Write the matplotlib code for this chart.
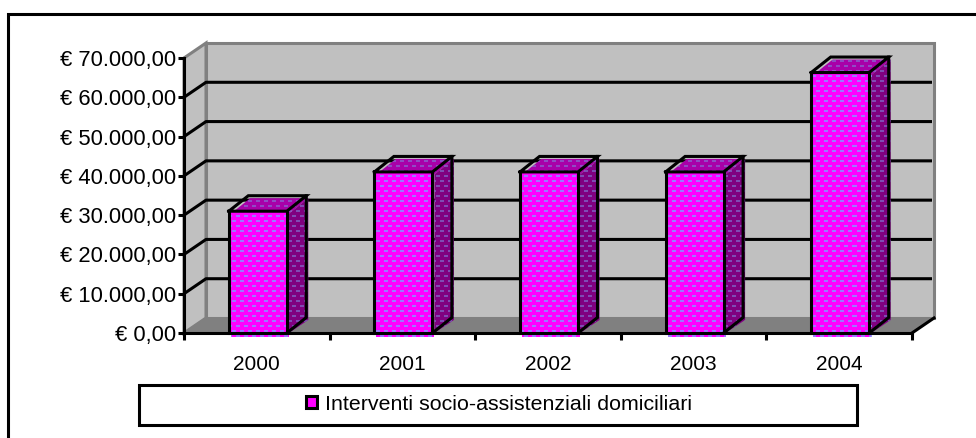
import matplotlib
matplotlib.use("Agg")
import numpy as np
import matplotlib.pyplot as plt
from matplotlib.patches import Polygon, Rectangle, Patch
from matplotlib.transforms import Affine2D
from matplotlib.ticker import FuncFormatter

years = ["2000", "2001", "2002", "2003", "2004"]
values = [31000, 41000, 41000, 41000, 66300]
series_name = "Interventi socio-assistenziali domiciliari"
y_ticks = [0, 10000, 20000, 30000, 40000, 50000, 60000, 70000]

W, H = 976, 438
plt.rcParams["font.family"] = ["Liberation Sans", "DejaVu Sans"]
FS_Y, FS_X, FS_L = 15.8, 15.0, 15.4
LW = 2.2
fig = plt.figure(figsize=(W / 100, H / 100), dpi=100, facecolor="white")
px = Affine2D().scale(1 / W, -1 / H).translate(0, 1) + fig.transFigure

# front plane of the chart box in pixels
L, R, T, B = 184, 912, 58, 333
ax = fig.add_axes([L / W, 1 - B / H, (R - L) / W, (B - T) / H])
ax.patch.set_visible(False)
for s in ["top", "right"]:
    ax.spines[s].set_visible(False)
for s in ["left", "bottom"]:
    ax.spines[s].set_linewidth(LW)
    ax.spines[s].set_zorder(8)

# pixel to data helpers
ux = 5 / (R - L)
uy = 70000 / (B - T)
DX, DY = 22 * ux, 15 * uy          # depth of the box
x0, x1 = -0.5, 4.5

def poly(pts, **kw):
    kw.setdefault("clip_on", False)
    p = Polygon(pts, closed=True, **kw)
    ax.add_patch(p)
    return p

# dotted fill texture laid over the bar faces
def dot_layer(rgb, alpha):
    t = np.zeros((H, W, 4))
    t[..., :3] = rgb
    for y in range(0, H, 5):
        shift = 4 if (y // 5) % 2 else 0
        for x in range(shift, W, 8):
            t[y:y + 2, x:min(x + 4, W), 3] = alpha
    return t

front_dots = dot_layer((0.55, 0.55, 1.0), 0.85)
side_dots = dot_layer((0.5, 0.5, 0.85), 0.6)
full_extent = (x0 - L * ux, x0 + (W - L) * ux, -(H - B) * uy, 70000 + T * uy)

def dots(tex, patch, z):
    im = ax.imshow(tex, extent=full_extent, aspect="auto", interpolation="nearest",
                   origin="upper", zorder=z)
    im.set_clip_path(patch)

# walls and floor
poly([(x0 + DX, DY), (x1 + DX, DY), (x1 + DX, 70000 + DY), (x0 + DX, 70000 + DY)],
     fc="#C0C0C0", ec="#808080", lw=LW, zorder=1)
poly([(x0, 0), (x0 + DX, DY), (x0 + DX, 70000 + DY), (x0, 70000)],
     fc="#C0C0C0", ec="#808080", lw=LW, zorder=1)
poly([(x0, 0), (x1, 0), (x1 + DX, DY), (x0 + DX, DY)],
     fc="#808080", ec="#808080", lw=1, zorder=1.5)

# gridlines on back and side wall
for v in y_ticks[1:-1]:
    ax.plot([x0, x0 + DX, x1 + DX - 2 * ux], [v, v + DY, v + DY], color="black",
            lw=LW, zorder=2, clip_on=False, solid_capstyle="butt")
ax.plot([x1, x1 + DX], [0, DY], color="black", lw=LW, zorder=7, clip_on=False)

# bars
bw = 58 * ux
bx, by = 19.5 * ux, 15.5 * uy      # depth of a bar
sx, sy = 2 * ux, 2.5 * uy          # fill is slightly offset from the outline
cx_shift = 1 * ux
PINK, SIDE, TOP = "#FF00FF", "#800080", "#A800A8"
for i, v in enumerate(values):
    xl = i - bw / 2 + cx_shift
    xr = i + bw / 2 + cx_shift
    top = poly([(xl + bx + sx, v + by - sy), (xr + bx + sx, v + by - sy), (xr + sx, v - sy), (xl + sx, v - sy)],
               fc=TOP, lw=0, zorder=3)
    side = poly([(xr + sx, 0), (xr + bx + sx, by - sy), (xr + bx + sx, v + by - sy), (xr + sx, v - sy)],
                fc=SIDE, lw=0, zorder=3)
    bar = ax.bar(i + cx_shift + sx, v + 3.5 * uy, width=bw, bottom=-3.5 * uy, color=PINK,
                 linewidth=0, zorder=3.5, clip_on=False)[0]
    dots(side_dots, top, 3.2)
    dots(side_dots, side, 3.2)
    dots(front_dots, bar, 3.7)
    # black outline of the box
    outline = [
        ([xl, xl], [0, v]), ([xr, xr], [0, v]),
        ([xl, xr, xr + bx, xl + bx, xl], [v, v, v + by, v + by, v]),
        ([xr + bx, xr + bx, xr], [v + by, by, 0]),
    ]
    for ox, oy in outline:
        ax.plot(ox, oy, color="black", lw=LW, zorder=5, clip_on=False,
                solid_joinstyle="miter", solid_capstyle="projecting")

ax.set_xlim(x0, x1)
ax.set_ylim(0, 70000)

# axes ticks and labels
euro = FuncFormatter(lambda v, _: "€ " + f"{v:,.2f}".replace(",", "#").replace(".", ",").replace("#", "."))
ax.set_yticks(y_ticks)
ax.yaxis.set_major_formatter(euro)
ax.set_xticks([-0.5, 0.5, 1.5, 2.5, 3.5, 4.5])
ax.set_xticklabels([])
ax.set_xticks(range(5), labels=years, minor=True)
ax.tick_params(axis="y", length=4, width=LW, labelsize=FS_Y, pad=2)
ax.tick_params(axis="x", which="major", length=5, width=LW)
ax.tick_params(axis="x", which="minor", length=0, labelsize=FS_X, pad=16)

# outer frame: only top and left edges
fig.add_artist(plt.Line2D([8, 8, W], [H, 14, 14], transform=px, color="black", lw=LW,
                          solid_joinstyle="miter"))

# legend
ax.add_patch(Rectangle((138.5, 384.5), 718, 40, transform=px, fc="white", ec="black",
                       lw=LW, clip_on=False, zorder=9))
handle = Patch(facecolor=PINK, edgecolor="black", linewidth=LW)
leg = ax.legend(handles=[handle], labels=[series_name], loc="center",
                bbox_to_anchor=(499, 404), bbox_transform=px, frameon=False,
                fontsize=FS_L, handlelength=0.5, handleheight=0.5, handletextpad=0.35,
                borderpad=0, borderaxespad=0)
leg.set_zorder(20)

fig.savefig("out.png", dpi=100)
